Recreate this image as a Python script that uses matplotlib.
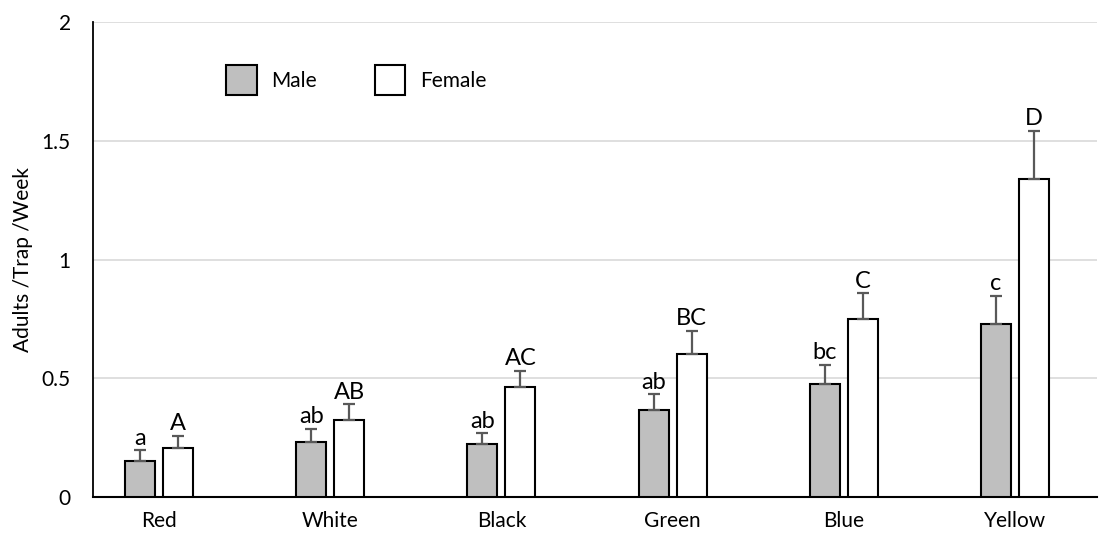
import numpy as np
import matplotlib
matplotlib.use('Agg')
import matplotlib.pyplot as plt

plt.rcParams['font.family'] = ['Lato', 'DejaVu Sans']

colours = ['Red', 'White', 'Black', 'Green', 'Blue', 'Yellow']
male = [0.153, 0.233, 0.225, 0.367, 0.476, 0.728]
male_err = [0.044, 0.055, 0.045, 0.067, 0.081, 0.120]
female = [0.208, 0.324, 0.462, 0.603, 0.749, 1.337]
female_err = [0.050, 0.068, 0.070, 0.097, 0.108, 0.205]
male_letters = ['a', 'ab', 'ab', 'ab', 'bc', 'c']
female_letters = ['A', 'AB', 'AC', 'BC', 'C', 'D']

fig = plt.figure(figsize=(11.05, 5.41), dpi=100)
ax = fig.add_axes([0.0842, 0.0813, 0.9086, 0.878])

x = np.arange(len(colours))
w = 0.175
off = 0.111

ekw = dict(ecolor='#595959', elinewidth=1.6, capsize=4, capthick=1.6)
ax.bar(x - off, male, w, color='#bfbfbf', edgecolor='black', linewidth=1.5,
       label='Male', zorder=3,
       yerr=[np.zeros(len(male)), male_err], error_kw=ekw)
ax.bar(x + off, female, w, color='white', edgecolor='black', linewidth=1.5,
       label='Female', zorder=3,
       yerr=[np.zeros(len(female)), female_err], error_kw=ekw)

# significance letters above the error bars
for i in range(len(colours)):
    ax.annotate(male_letters[i], (x[i] - off, male[i] + male_err[i]),
                xytext=(0, 1), textcoords='offset points',
                ha='center', va='bottom', fontsize=17)
    ax.annotate(female_letters[i], (x[i] + off, female[i] + female_err[i]),
                xytext=(0, 1), textcoords='offset points',
                ha='center', va='bottom', fontsize=17)

ax.set_xlim(-0.386, 5.48)
ax.set_ylim(0, 2)
ax.set_yticks([0, 0.5, 1, 1.5, 2])
ax.set_yticklabels(['0', '0.5', '1', '1.5', '2'])
ax.set_xticks(x)
ax.set_xticklabels(colours)
ax.tick_params(axis='both', length=0, labelsize=15)
ax.tick_params(axis='x', pad=10)
ax.tick_params(axis='y', pad=16)
ax.set_ylabel('Adults /Trap /Week', fontsize=15, labelpad=6)

ax.grid(axis='y', color='#d9d9d9', linewidth=1.2, zorder=0)
ax.set_axisbelow(True)
ax.spines['top'].set_visible(False)
ax.spines['right'].set_visible(False)
ax.spines['left'].set_linewidth(1.3)
ax.spines['bottom'].set_linewidth(1.5)

ax.legend(loc='upper left', bbox_to_anchor=(0.188, 0.915),
          bbox_transform=fig.transFigure, ncol=2, frameon=False,
          fontsize=15, handlelength=1.45, handleheight=1.85,
          handletextpad=0.7, columnspacing=2.8)

plt.savefig('out.png', dpi=100)
